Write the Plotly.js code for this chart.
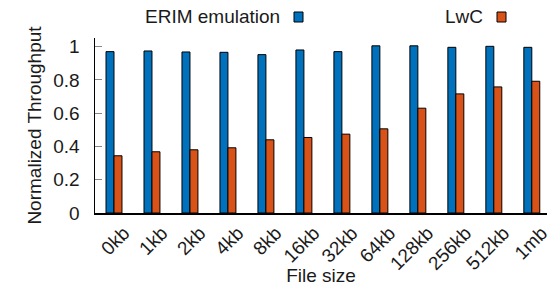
<!DOCTYPE html>
<html><head><meta charset="utf-8">
<script src="https://cdn.plot.ly/plotly-3.0.1.min.js"></script>
<style>html,body{margin:0;padding:0;background:#fff}#c{width:551px;height:286px}</style>
</head><body><div id="c"></div>
<script>
const categories = ["0kb","1kb","2kb","4kb","8kb","16kb","32kb","64kb","128kb","256kb","512kb","1mb"];
const erimValues = [0.970,0.974,0.968,0.966,0.952,0.980,0.970,1.005,1.005,0.996,1.002,0.996];
const lwcValues  = [0.344,0.368,0.380,0.392,0.440,0.454,0.474,0.506,0.630,0.716,0.758,0.792];
const yTicks = [0,0.2,0.4,0.6,0.8,1];
const yTickText = ["0","0.2","0.4","0.6","0.8","1"];
const seriesNames = ["ERIM emulation","LwC"];
const colors = ["#0072BD","#D95319"];

const font = {family:"Liberation Sans, Arial, sans-serif", size:19, color:"#1a1a1a"};
const traces = [
  {type:"bar", x:categories, y:erimValues, name:seriesNames[0], marker:{color:colors[0], line:{color:"#000", width:1}}},
  {type:"bar", x:categories, y:lwcValues, name:seriesNames[1], marker:{color:colors[1], line:{color:"#000", width:1}}}
];
const layout = {
  width:551, height:286,
  margin:{l:95, r:4, t:38, b:73},
  paper_bgcolor:"#fff", plot_bgcolor:"#fff",
  font:font,
  showlegend:false,
  barmode:"group", bargap:0.58, bargroupgap:0,
  xaxis:{
    type:"category", range:[-0.5,11.4],
    tickangle:-45, ticks:"", showline:true, linecolor:"#000", linewidth:1.5,
    showgrid:false, zeroline:false, tickfont:font, ticklabelshift:10,
    title:{text:"File size", font:font, standoff:0}
  },
  yaxis:{
    range:[0,1.052], tickvals:yTicks, ticktext:yTickText,
    ticks:"inside", ticklen:7, tickcolor:"#888", tickwidth:1,
    showline:true, linecolor:"#000", linewidth:1.5,
    showgrid:false, zeroline:false, tickfont:font, ticklabelstandoff:10,
    title:{text:"Normalized Throughput", font:font, standoff:6}
  },
  annotations:[
    {xref:"paper", yref:"paper", x:(282-95)/452, y:1+(38-17)/175, xanchor:"right", yanchor:"middle", text:seriesNames[0], showarrow:false, font:font},
    {xref:"paper", yref:"paper", x:(485-95)/452, y:1+(38-17)/175, xanchor:"right", yanchor:"middle", text:seriesNames[1], showarrow:false, font:font}
  ],
  shapes:[
    {type:"rect", xref:"paper", yref:"paper", x0:(294-95)/452, x1:(303-95)/452, y0:1+(38-22)/175, y1:1+(38-12)/175, fillcolor:colors[0], line:{color:"#000", width:1}},
    {type:"rect", xref:"paper", yref:"paper", x0:(497-95)/452, x1:(506-95)/452, y0:1+(38-22)/175, y1:1+(38-12)/175, fillcolor:colors[1], line:{color:"#000", width:1}}
  ]
};
Plotly.newPlot("c", traces, layout, {staticPlot:true, displayModeBar:false});
</script></body></html>
